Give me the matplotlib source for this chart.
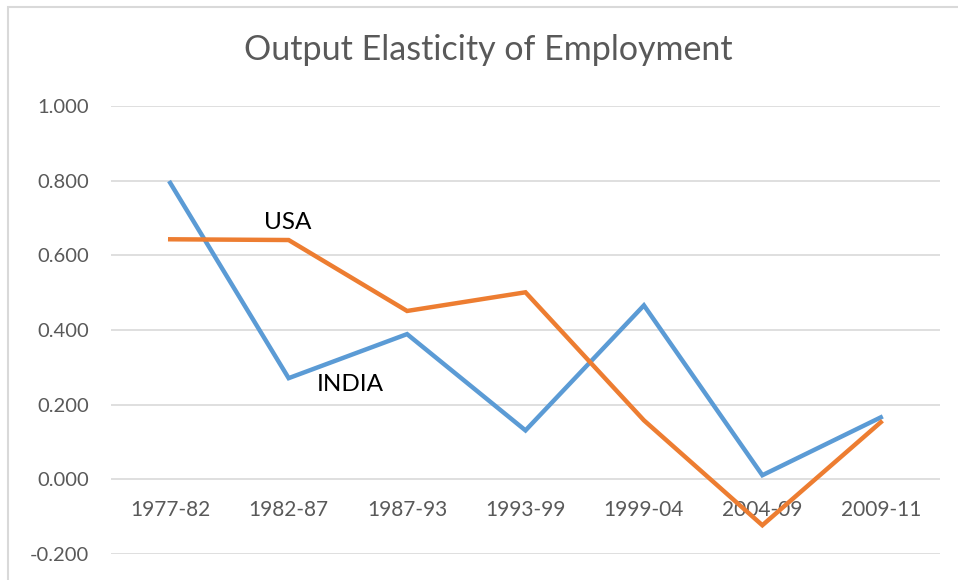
import matplotlib
matplotlib.use("Agg")
import matplotlib.pyplot as plt
from matplotlib.patches import Rectangle

# values
periods = ["1977-82", "1982-87", "1987-93", "1993-99", "1999-04", "2004-09", "2009-11"]
india = [0.794, 0.271, 0.389, 0.131, 0.466, 0.011, 0.166]
usa = [0.643, 0.641, 0.451, 0.501, 0.158, -0.123, 0.153]
y_ticks = [-0.2, 0.0, 0.2, 0.4, 0.6, 0.8, 1.0]

plt.rcParams["font.family"] = ["Lato", "DejaVu Sans"]
grey = "#595959"

fig = plt.figure(figsize=(9.58, 5.8), dpi=100)
ax = fig.add_axes([111 / 958, 1 - 554 / 580, (940 - 111) / 958, (554 - 106) / 580])

x = list(range(len(periods)))
ax.plot(x, india, color="#5B9BD5", linewidth=3.2, solid_joinstyle="miter", zorder=3)
ax.plot(x, usa, color="#ED7D31", linewidth=3.2, solid_joinstyle="miter", zorder=3)

ax.set_xlim(-0.5, len(periods) - 0.5)
ax.set_ylim(-0.2, 1.0)
ax.set_yticks(y_ticks)
ax.set_yticklabels([f"{v:.3f}" for v in y_ticks])
ax.set_xticks(x)
ax.set_xticklabels(periods)
ax.grid(axis="y", color="#D9D9D9", linewidth=1.2)
ax.set_axisbelow(True)

for s in ["top", "right", "left"]:
    ax.spines[s].set_visible(False)
ax.spines["bottom"].set_position(("data", 0))
ax.spines["bottom"].set_visible(False)
ax.tick_params(axis="x", length=0, pad=15, labelsize=15, labelcolor=grey)
ax.tick_params(axis="y", length=0, pad=16, labelsize=14.5, labelcolor=grey)

# series labels
ax.text(0.99, 0.689, "USA", ha="center", va="center", fontsize=17.5, color="black")
ax.text(1.52, 0.255, "INDIA", ha="center", va="center", fontsize=17.5, color="black")

fig.text(488 / 958, 1 - 50 / 580, "Output Elasticity of Employment",
         ha="center", va="center", fontsize=24.5, color=grey)

# chart area border
fig.patches.append(Rectangle((8 / 958, -0.1), 1.2, 1.1 - 7 / 580,
                             transform=fig.transFigure, fill=False,
                             edgecolor="#D9D9D9", linewidth=1.5))

fig.savefig("out.png", dpi=100)
